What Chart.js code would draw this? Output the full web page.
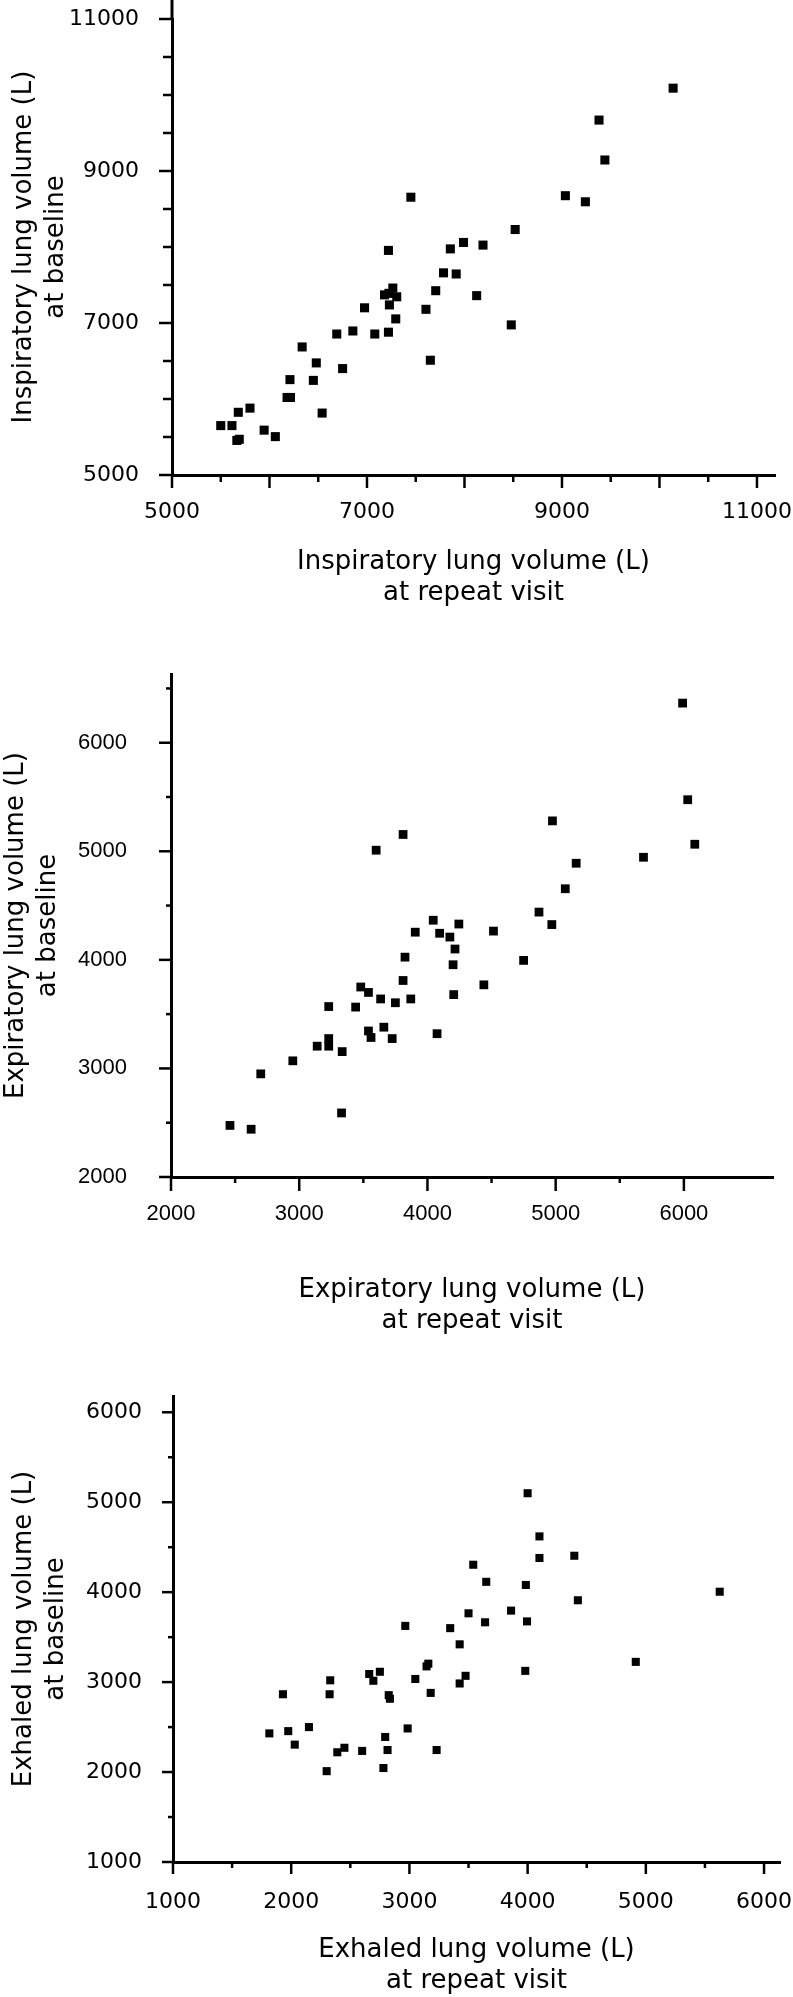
<!DOCTYPE html>
<html>
<head>
<meta charset="utf-8">
<script src="https://cdn.jsdelivr.net/npm/chart.js@4.4.1/dist/chart.umd.min.js"></script>
<style>
  html, body { margin: 0; padding: 0; background: #fff; }
  body { width: 793px; height: 1997px; position: relative; overflow: hidden; }
  canvas { position: absolute; left: 0; }
</style>
</head>
<body>
<canvas id="inspChart" width="793" height="640" style="top:0px"></canvas>
<canvas id="expChart" width="793" height="700" style="top:640px"></canvas>
<canvas id="exhChart" width="793" height="657" style="top:1340px"></canvas>
<script>
// Inspiratory lung volume (L): repeat visit (x) vs baseline (y)
const inspRepeat = [10140, 9380, 9440, 7450, 9035, 9240, 8520, 7990, 8190, 7855, 7220, 7785, 7915, 7705, 7265,
  7180, 7305, 8125, 7230, 6975, 7605, 7295, 8480, 6690, 6855, 7080, 7220, 6335, 6480, 7650,
  6750, 6210, 6450, 6180, 6215, 5800, 5680, 6540, 5500, 5615, 5945, 6060, 5665, 5690, 7225];
const inspBaseline = [10090, 9670, 9145, 8655, 8675, 8595, 8230, 8060, 8025, 7975, 7955, 7660, 7645, 7425, 7460,
  7370, 7345, 7360, 7238, 7200, 7180, 7054, 6975, 6855, 6895, 6855, 6879, 6685, 6475, 6510,
  6400, 6255, 6245, 6020, 6020, 5880, 5825, 5815, 5650, 5650, 5590, 5505, 5455, 5470, 7390];
const inspTickLabels = [5000, 7000, 9000, 11000];

// Expiratory lung volume (L)
const expRepeat = [5990, 6030, 4975, 3810, 3600, 6085, 5685, 5160, 5075, 4870, 4970, 4045, 4245, 3905, 4095,
  4175, 4515, 4215, 3825, 4750, 4200, 3810, 3480, 4440, 3540, 3635, 3870, 4205, 3750, 3230,
  3440, 3540, 3660, 3560, 3725, 4075, 3230, 3230, 3140, 3335, 2950, 2700, 3330, 2460, 2625];
const expBaseline = [6365, 5475, 5280, 5155, 5010, 5065, 4945, 4890, 4655, 4440, 4325, 4365, 4330, 4255, 4245,
  4210, 4265, 4100, 4025, 3995, 3955, 3810, 3750, 3770, 3700, 3640, 3640, 3680, 3605, 3570,
  3565, 3345, 3380, 3285, 3275, 3320, 3275, 3205, 3205, 3155, 3070, 2950, 2590, 2475, 2440];
const expTickLabels = [2000, 3000, 4000, 5000, 6000];

// Exhaled lung volume (L)
const exhRepeat = [4000, 4100, 4100, 4395, 3540, 3650, 3985, 5625, 4425, 3860, 3500, 3995, 3640, 2965, 3345,
  3425, 4915, 3145, 3160, 3980, 2660, 2750, 2695, 2330, 3050, 3475, 3425, 1930, 2325, 2825,
  2835, 3180, 1815, 1975, 2150, 2030, 2985, 2795, 2450, 2390, 2600, 2815, 3230, 2300, 2780];
const exhBaseline = [5100, 4620, 4380, 4405, 4305, 4115, 4080, 4005, 3910, 3795, 3765, 3675, 3665, 3625, 3600,
  3420, 3225, 3175, 3205, 3125, 3090, 3115, 3015, 3020, 3035, 3070, 2985, 2865, 2865, 2855,
  2815, 2880, 2430, 2455, 2500, 2305, 2485, 2390, 2270, 2220, 2235, 2245, 2245, 2010, 2045];
const exhTickLabels = [1000, 2000, 3000, 4000, 5000, 6000];

// tick every 500 from the first to the last given value
function halfSteps(labels) {
  const out = [];
  for (let v = labels[0]; v <= labels[labels.length - 1]; v += 500) out.push({ value: v });
  return out;
}

// outward tick marks (long for major values, short in between) and the
// little piece of y axis that runs on past the top of the plot area
const axisTicks = {
  id: 'axisTicks',
  afterDraw(chart, args, opts) {
    const ctx = chart.ctx;
    const xs = chart.scales.x, ys = chart.scales.y;
    ctx.save();
    ctx.strokeStyle = '#000';
    ctx.lineWidth = opts.width;
    xs.ticks.forEach(t => {
      const px = xs.getPixelForValue(t.value);
      const len = t.value % opts.xMajorStep === 0 ? opts.xLong : opts.xShort;
      ctx.beginPath();
      ctx.moveTo(px, xs.top);
      ctx.lineTo(px, xs.top + len);
      ctx.stroke();
    });
    ys.ticks.forEach(t => {
      const py = ys.getPixelForValue(t.value);
      const len = opts.yMajor.includes(t.value) ? opts.yLong : opts.yShort;
      ctx.beginPath();
      ctx.moveTo(ys.right - len, py);
      ctx.lineTo(ys.right, py);
      ctx.stroke();
    });
    if (opts.yOverhang) {
      ctx.lineWidth = 3;
      ctx.beginPath();
      ctx.moveTo(ys.right, ys.top + 1);
      ctx.lineTo(ys.right, ys.top - opts.yOverhang);
      ctx.stroke();
    }
    ctx.restore();
  }
};

function buildPanel(id, o) {
  const points = o.xs.map((x, i) => ({ x: x, y: o.ys[i] }));
  return new Chart(document.getElementById(id), {
    type: 'scatter',
    data: {
      datasets: [{
        data: points,
        pointStyle: 'rect',
        pointRadius: o.radius,
        pointBackgroundColor: '#000',
        pointBorderWidth: 0
      }]
    },
    options: {
      responsive: false,
      animation: false,
      events: [],
      layout: { padding: { top: o.padTop, right: o.padRight, left: 0, bottom: 0 } },
      plugins: {
        legend: { display: false },
        tooltip: { enabled: false },
        axisTicks: o.tickMarks
      },
      scales: {
        x: {
          type: 'linear',
          position: 'bottom',
          min: o.xMin,
          max: o.xMax,
          grid: { display: false },
          border: { display: true, color: '#000', width: 3 },
          afterBuildTicks: s => { s.ticks = halfSteps(o.xLabels); },
          ticks: {
            autoSkip: false,
            maxRotation: 0,
            padding: o.xLabelPad,
            color: '#000',
            font: o.tickFont,
            callback: v => o.xLabels.includes(v) ? String(v) : ''
          },
          title: {
            display: true,
            text: o.xTitle,
            color: '#000',
            font: { family: 'DejaVu Sans', size: 26, lineHeight: '31px' },
            padding: { top: 0, bottom: o.xTitlePad }
          },
          afterFit: s => { s.height = o.xHeight; s.paddingLeft = 0; s.paddingRight = 0; }
        },
        y: {
          type: 'linear',
          position: 'left',
          min: o.yMin,
          max: o.yMax,
          grid: { display: false },
          border: { display: true, color: '#000', width: 3 },
          afterBuildTicks: s => { s.ticks = halfSteps(o.yTicks); },
          ticks: {
            autoSkip: false,
            padding: o.yLabelPad,
            color: '#000',
            font: o.tickFont,
            callback: v => o.yLabels.includes(v) ? String(v) : ''
          },
          title: {
            display: true,
            text: o.yTitle,
            color: '#000',
            font: { family: 'DejaVu Sans', size: 26, lineHeight: '32px' },
            padding: { top: o.yTitlePad, bottom: 0 }
          },
          afterFit: s => { s.width = o.yWidth; s.paddingTop = 0; s.paddingBottom = 0; }
        }
      }
    },
    plugins: [axisTicks]
  });
}

buildPanel('inspChart', {
  xs: inspRepeat, ys: inspBaseline,
  xLabels: inspTickLabels, yLabels: inspTickLabels, yTicks: inspTickLabels,
  xMin: 5000, xMax: 11185, yMin: 5000, yMax: 11000,
  xTitle: ['Inspiratory lung volume (L)', 'at repeat visit'],
  yTitle: ['Inspiratory lung volume (L)', 'at baseline'],
  radius: 6.4,
  padTop: 19, padRight: 18, xHeight: 165, yWidth: 172,
  xLabelPad: 16, yLabelPad: 25, xTitlePad: 31, yTitlePad: 8,
  tickFont: { family: 'DejaVu Sans', size: 22 },
  tickMarks: { width: 2.5, xMajorStep: 1000, xLong: 13, xShort: 7, yMajor: inspTickLabels, yLong: 13, yShort: 9, yOverhang: 19 }
});

buildPanel('expChart', {
  xs: expRepeat, ys: expBaseline,
  xLabels: expTickLabels, yLabels: expTickLabels, yTicks: [2000, 6500],
  xMin: 2000, xMax: 6695, yMin: 2000, yMax: 6633,
  xTitle: ['Expiratory lung volume (L)', 'at repeat visit'],
  yTitle: ['Expiratory lung volume (L)', 'at baseline'],
  radius: 6.2,
  padTop: 34, padRight: 20, xHeight: 163, yWidth: 171,
  xLabelPad: 16, yLabelPad: 36, xTitlePad: 3, yTitlePad: 0,
  tickFont: { family: 'Liberation Sans', size: 22 },
  tickMarks: { width: 2.5, xMajorStep: 1000, xLong: 14, xShort: 6, yMajor: expTickLabels, yLong: 12, yShort: 5 }
});

buildPanel('exhChart', {
  xs: exhRepeat, ys: exhBaseline,
  xLabels: exhTickLabels, yLabels: exhTickLabels, yTicks: exhTickLabels,
  xMin: 1000, xMax: 6135, yMin: 1000, yMax: 6181,
  xTitle: ['Exhaled lung volume (L)', 'at repeat visit'],
  yTitle: ['Exhaled lung volume (L)', 'at baseline'],
  radius: 5.7,
  padTop: 56, padRight: 13, xHeight: 135, yWidth: 173,
  xLabelPad: 19, yLabelPad: 23, xTitlePad: 0, yTitlePad: 8,
  tickFont: { family: 'DejaVu Sans', size: 22 },
  tickMarks: { width: 2.5, xMajorStep: 1000, xLong: 12, xShort: 6, yMajor: exhTickLabels, yLong: 11, yShort: 5 }
});
</script>
</body>
</html>
